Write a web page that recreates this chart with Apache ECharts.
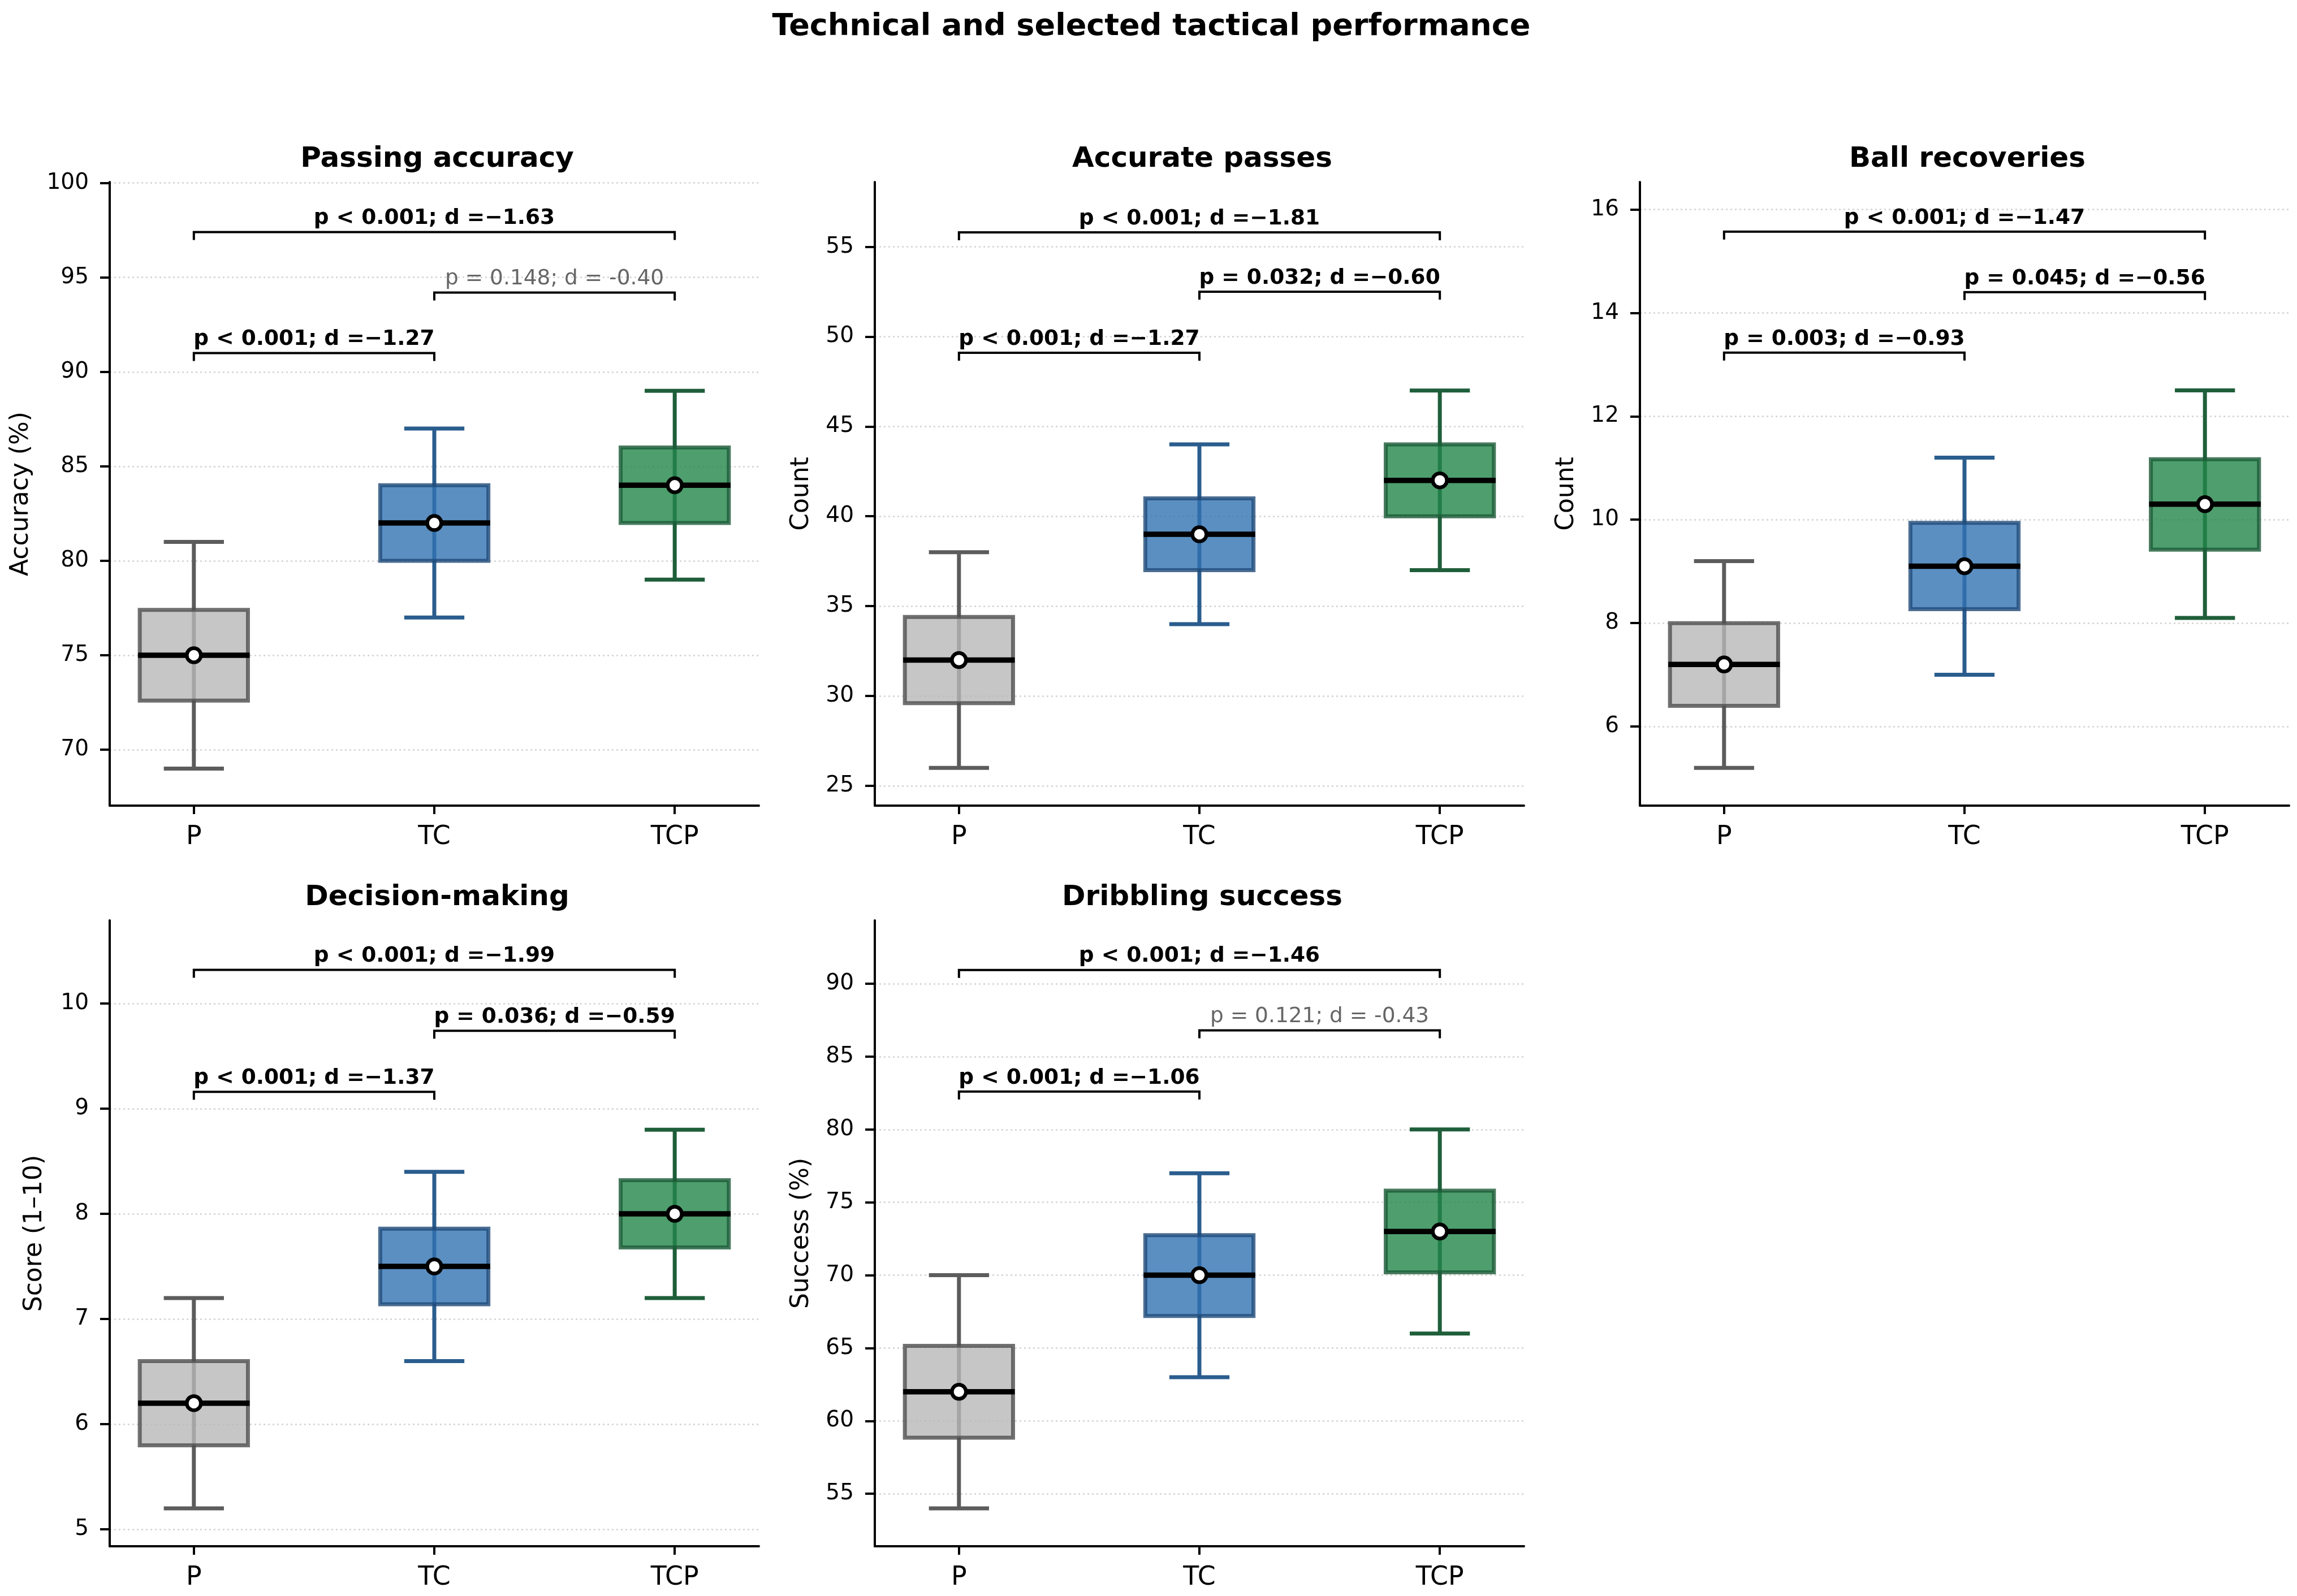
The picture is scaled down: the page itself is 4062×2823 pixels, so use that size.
<!DOCTYPE html>
<html>
<head>
<meta charset="utf-8">
<title>Technical and selected tactical performance</title>
<script src="https://cdn.jsdelivr.net/npm/echarts@6.0.0/dist/echarts.min.js"></script>
<style>
	html, body { margin: 0; padding: 0; background: #fff; }
	#main { width: 4062px; height: 2823px; }
</style>
</head>
<body>
<div id="main"></div>
<script>
// groups on the x axis
var groups = ['P', 'TC', 'TCP'];

// box stats per group: [low whisker, q1, median, q3, high whisker]
var passingAccuracy = [[69, 72.6, 75, 77.4, 81], [77, 80, 82, 84, 87], [79, 82, 84, 86, 89]];
var passingAccuracyMean = [75, 82, 84];
var accuratePasses = [[26, 29.6, 32, 34.4, 38], [34, 37, 39, 41, 44], [37, 40, 42, 44, 47]];
var accuratePassesMean = [32, 39, 42];
var ballRecoveries = [[5.2, 6.4, 7.2, 8.0, 9.2], [7.0, 8.27, 9.1, 9.94, 11.2], [8.1, 9.42, 10.3, 11.17, 12.5]];
var ballRecoveriesMean = [7.2, 9.1, 10.3];
var decisionMaking = [[5.2, 5.8, 6.2, 6.6, 7.2], [6.6, 7.14, 7.5, 7.86, 8.4], [7.2, 7.68, 8.0, 8.32, 8.8]];
var decisionMakingMean = [6.2, 7.5, 8.0];
var dribblingSuccess = [[54, 58.85, 62, 65.15, 70], [63, 67.2, 70, 72.75, 77], [66, 70.2, 73, 75.8, 80]];
var dribblingSuccessMean = [62, 70, 73];

// significance brackets: [from group, to group, height]
var passingAccuracyBrackets = [[0, 1, 91.0], [1, 2, 94.2], [0, 2, 97.4]];
var passingAccuracyLabels = ['p < 0.001; d =\u22121.27', 'p = 0.148; d = -0.40', 'p < 0.001; d =\u22121.63'];
var passingAccuracySig = [true, false, true];
var accuratePassesBrackets = [[0, 1, 49.1], [1, 2, 52.5], [0, 2, 55.8]];
var accuratePassesLabels = ['p < 0.001; d =\u22121.27', 'p = 0.032; d =\u22120.60', 'p < 0.001; d =\u22121.81'];
var accuratePassesSig = [true, true, true];
var ballRecoveriesBrackets = [[0, 1, 13.23], [1, 2, 14.4], [0, 2, 15.57]];
var ballRecoveriesLabels = ['p = 0.003; d =\u22120.93', 'p = 0.045; d =\u22120.56', 'p < 0.001; d =\u22121.47'];
var ballRecoveriesSig = [true, true, true];
var decisionMakingBrackets = [[0, 1, 9.16], [1, 2, 9.74], [0, 2, 10.32]];
var decisionMakingLabels = ['p < 0.001; d =\u22121.37', 'p = 0.036; d =\u22120.59', 'p < 0.001; d =\u22121.99'];
var decisionMakingSig = [true, true, true];
var dribblingSuccessBrackets = [[0, 1, 82.6], [1, 2, 86.8], [0, 2, 90.95]];
var dribblingSuccessLabels = ['p < 0.001; d =\u22121.06', 'p = 0.121; d = -0.43', 'p < 0.001; d =\u22121.46'];
var dribblingSuccessSig = [true, false, true];

// y ticks and ranges
var passingAccuracyTicks = [70, 75, 80, 85, 90, 95, 100];
var accuratePassesTicks = [25, 30, 35, 40, 45, 50, 55];
var ballRecoveriesTicks = [6, 8, 10, 12, 14, 16];
var decisionMakingTicks = [5, 6, 7, 8, 9, 10];
var dribblingSuccessTicks = [55, 60, 65, 70, 75, 80, 85, 90];
var yRanges = [[67.04, 100.05], [23.9, 58.6], [4.47, 16.53], [4.84, 10.79], [51.4, 94.35]];

var titles = ['Passing accuracy', 'Accurate passes', 'Ball recoveries', 'Decision-making', 'Dribbling success'];
var yNames = ['Accuracy (%)', 'Count', 'Count', 'Score (1\u201310)', 'Success (%)'];

var panels = [
	{ box: passingAccuracy, mean: passingAccuracyMean, br: passingAccuracyBrackets, labels: passingAccuracyLabels, sig: passingAccuracySig, ticks: passingAccuracyTicks, nameGap: 134 },
	{ box: accuratePasses, mean: accuratePassesMean, br: accuratePassesBrackets, labels: accuratePassesLabels, sig: accuratePassesSig, ticks: accuratePassesTicks, nameGap: 107 },
	{ box: ballRecoveries, mean: ballRecoveriesMean, br: ballRecoveriesBrackets, labels: ballRecoveriesLabels, sig: ballRecoveriesSig, ticks: ballRecoveriesTicks, nameGap: 107 },
	{ box: decisionMaking, mean: decisionMakingMean, br: decisionMakingBrackets, labels: decisionMakingLabels, sig: decisionMakingSig, ticks: decisionMakingTicks, nameGap: 110 },
	{ box: dribblingSuccess, mean: dribblingSuccessMean, br: dribblingSuccessBrackets, labels: dribblingSuccessLabels, sig: dribblingSuccessSig, ticks: dribblingSuccessTicks, nameGap: 107 }
];

var fillColors = ['#b8b8b8', '#3273b3', '#22864a'];
var edgeColors = ['#4d4d4d', '#1f4a78', '#1b5a37'];
var whiskerColors = ['#5c5c5c', '#2a5d8e', '#1f5e3a'];
var FONT = 'DejaVu Sans';

var gridLeft = [194, 1547, 2900];
var gridTop = [322, 1628];
var gridW = 1148;
var gridH = [1103, 1107];

var myChart = echarts.init(document.getElementById('main'), null, { renderer: 'canvas' });

function renderBox(params, api) {
	var x = api.value(0);
	var g = params.dataIndex;
	var low = api.coord([x, api.value(1)]);
	var q1 = api.coord([x, api.value(2)]);
	var med = api.coord([x, api.value(3)]);
	var q3 = api.coord([x, api.value(4)]);
	var high = api.coord([x, api.value(5)]);
	var mean = api.coord([x, api.value(6)]);
	var cx = low[0];
	var bw = api.size([0.45, 0])[0];
	var cw = api.size([0.25, 0])[0];
	var wStyle = { stroke: whiskerColors[g], lineWidth: 7 };
	return {
		type: 'group',
		children: [
			{ type: 'line', shape: { x1: cx, y1: low[1], x2: cx, y2: high[1] }, style: wStyle },
			{ type: 'line', shape: { x1: cx - cw / 2, y1: low[1], x2: cx + cw / 2, y2: low[1] }, style: wStyle },
			{ type: 'line', shape: { x1: cx - cw / 2, y1: high[1], x2: cx + cw / 2, y2: high[1] }, style: wStyle },
			{ type: 'rect', shape: { x: cx - bw / 2, y: q3[1], width: bw, height: q1[1] - q3[1] },
				style: { fill: fillColors[g], stroke: edgeColors[g], lineWidth: 7, opacity: 0.8 } },
			{ type: 'line', shape: { x1: cx - bw / 2 - 3, y1: med[1], x2: cx + bw / 2 + 3, y2: med[1] },
				style: { stroke: '#000', lineWidth: 9.5 } },
			{ type: 'circle', shape: { cx: cx, cy: mean[1], r: 12.5 },
				style: { fill: '#fff', stroke: '#000', lineWidth: 6.5 } }
		]
	};
}

function makeBracketRenderer(p) {
	return function(params, api) {
		var i = params.dataIndex;
		var a = api.coord([api.value(0), api.value(2)]);
		var b = api.coord([api.value(1), api.value(2)]);
		var sig = p.sig[i];
		return {
			type: 'group',
			children: [
				{ type: 'polyline', shape: { points: [[a[0], a[1] + 14], [a[0], a[1]], [b[0], b[1]], [b[0], b[1] + 14]] },
					style: { stroke: '#000', lineWidth: 4, fill: null } },
				{ type: 'text', x: (a[0] + b[0]) / 2, y: a[1] - 24,
					style: { text: p.labels[i], fill: sig ? '#000' : '#666666',
						font: (sig ? 'bold ' : 'normal ') + '37.5px "' + FONT + '"',
						align: 'center', verticalAlign: 'middle' } }
			]
		};
	};
}

var grids = [], xAxes = [], yAxes = [], series = [], titleList = [];

titleList.push({
	text: 'Technical and selected tactical performance',
	left: 2031, top: 16, textAlign: 'center',
	textStyle: { fontFamily: FONT, fontSize: 54, fontWeight: 'bold', color: '#000', lineHeight: 54 }
});

panels.forEach(function(p, i) {
	var row = Math.floor(i / 3), col = i % 3;
	grids.push({ left: gridLeft[col], top: gridTop[row], width: gridW, height: gridH[row], containLabel: false, outerBoundsMode: 'none' });
	titleList.push({
		text: titles[i],
		left: gridLeft[col] + gridW / 2, top: gridTop[row] - 70, textAlign: 'center',
		textStyle: { fontFamily: FONT, fontSize: 50, fontWeight: 'bold', color: '#000', lineHeight: 50 }
	});
	xAxes.push({
		type: 'value', gridIndex: i, min: -0.35, max: 2.35,
		axisLine: { show: true, onZero: false, lineStyle: { color: '#000', width: 4 } },
		axisTick: { show: true, length: 15, lineStyle: { color: '#000', width: 4 }, customValues: [0, 1, 2] },
		axisLabel: { customValues: [0, 1, 2], margin: 33, fontFamily: FONT, fontSize: 45.8, color: '#000',
			formatter: function(v) { return groups[Math.round(v)]; } },
		splitLine: { show: false }
	});
	yAxes.push({
		type: 'value', gridIndex: i, min: yRanges[i][0], max: yRanges[i][1],
		name: yNames[i], nameLocation: 'middle', nameGap: p.nameGap,
		nameTextStyle: { fontFamily: FONT, fontSize: 44, color: '#000' },
		axisLine: { show: true, onZero: false, lineStyle: { color: '#000', width: 4 } },
		axisTick: { show: true, length: 17, lineStyle: { color: '#000', width: 4 }, customValues: p.ticks },
		axisLabel: { customValues: p.ticks, margin: 37, fontFamily: FONT, fontSize: 39, color: '#000' },
		splitLine: { show: true, lineStyle: { color: '#d2d2d2', width: 2.5, type: [3, 5] } }
	});
	var boxData = p.box.map(function(b, g) {
		return [g, b[0], b[1], b[2], b[3], b[4], p.mean[g]];
	});
	series.push({
		type: 'custom', xAxisIndex: i, yAxisIndex: i, z: 2,
		renderItem: renderBox, data: boxData, silent: true
	});
	series.push({
		type: 'custom', xAxisIndex: i, yAxisIndex: i, z: 3,
		renderItem: makeBracketRenderer(p), data: p.br, silent: true
	});
});

var option = {
	animation: false,
	backgroundColor: '#fff',
	title: titleList,
	grid: grids,
	xAxis: xAxes,
	yAxis: yAxes,
	series: series
};

myChart.setOption(option);
</script>
</body>
</html>
